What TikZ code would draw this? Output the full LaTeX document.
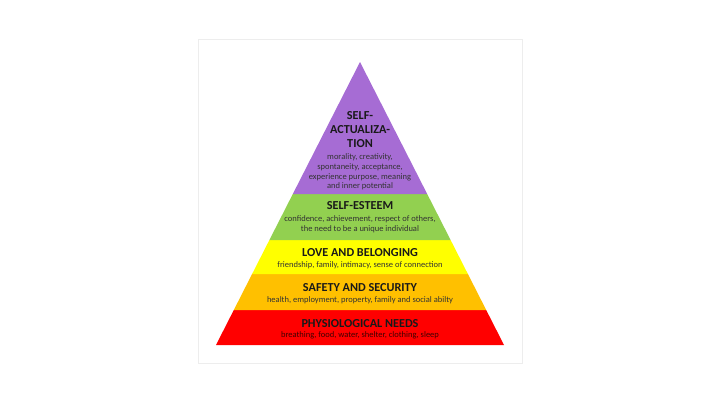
\documentclass[tikz,border=0pt]{standalone}
\usepackage{fontspec}
\setmainfont{Carlito}
\usepackage{xcolor}

\definecolor{lvlpurple}{RGB}{166,108,212}
\definecolor{lvlgreen}{RGB}{146,208,80}
\definecolor{lvlyellow}{RGB}{255,255,0}
\definecolor{lvlorange}{RGB}{255,192,0}
\definecolor{lvlred}{RGB}{255,0,0}

\tikzset{
  title/.style={font=\fontsize{12.2}{14}\selectfont\bfseries, text=black!90, align=center, inner sep=0pt},
  detail/.style={font=\fontsize{8.5}{9.6}\selectfont, text=black!80, align=center, inner sep=0pt}
}

\begin{document}
\begin{tikzpicture}[x=1pt,y=-1pt]
\useasboundingbox (0,0) rectangle (720,405);
\draw[black!7, line width=0.8pt] (198,39) rectangle (522,363);

% layers, bottom to top
\fill[lvlred] (216,345) -- (504,345) -- (486.2,310) -- (233.8,310) -- cycle;
\fill[lvlorange] (233.8,310) -- (486.2,310) -- (467.9,274) -- (252.1,274) -- cycle;
\fill[lvlyellow] (252.1,274) -- (467.9,274) -- (450.6,240) -- (269.4,240) -- cycle;
\fill[lvlgreen] (269.4,240) -- (450.6,240) -- (427.2,194) -- (292.8,194) -- cycle;
\fill[lvlpurple] (292.8,194) -- (427.2,194) -- (360,62) -- cycle;

\node[title] (selfact) at (360,130) {SELF-\\ACTUALIZA-\\TION};
\node[detail] (selfacttxt) at (360,172) {morality, creativity,\\spontaneity, acceptance,\\experience purpose, meaning\\and inner potential};

\node[title] (esteem) at (360,206) {SELF-ESTEEM};
\node[detail] (esteemtxt) at (360,224) {confidence, achievement, respect of others,\\the need to be a unique individual};

\node[title] (love) at (360,252.5) {LOVE AND BELONGING};
\node[detail] (lovetxt) at (360,265.5) {friendship, family, intimacy, sense of connection};

\node[title] (safety) at (360,288) {SAFETY AND SECURITY};
\node[detail] (safetytxt) at (360,300.5) {health, employment, property, family and social abilty};

\node[title] (physio) at (360,323.5) {PHYSIOLOGICAL NEEDS};
\node[detail, text=black!75!red] (physiotxt) at (360,335.5) {breathing, food, water, shelter, clothing, sleep};
\end{tikzpicture}
\end{document}
